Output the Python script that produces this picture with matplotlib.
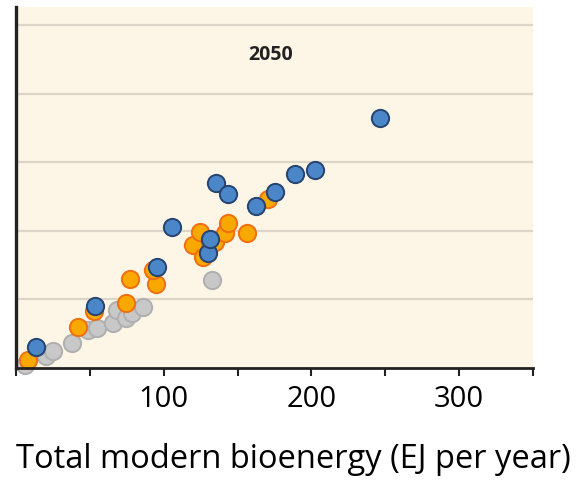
import matplotlib.pyplot as plt

# values (x: EJ per year, y: arbitrary grid units)
gray_x = [6.1, 20.4, 25.1, 38.0, 48.8, 55.0, 65.8, 68.5, 74.6, 78.7, 86.2, 133.0]
gray_y = [0.9, 3.5, 5.0, 7.3, 11.1, 11.7, 13.1, 16.9, 14.6, 16.1, 17.8, 25.7]

orange_x = [8.1, 42.1, 52.9, 74.6, 77.3, 95.0, 92.9, 120.1, 124.8, 126.9,
            135.0, 141.8, 143.8, 156.7, 170.3]
orange_y = [2.3, 12.0, 16.6, 19.0, 26.0, 24.5, 28.6, 35.9, 39.7, 32.4,
            36.8, 39.4, 42.3, 39.4, 49.3]

blue_x = [13.6, 53.6, 95.7, 105.8, 130.3, 131.6, 135.7, 143.8, 162.8,
          175.0, 188.6, 202.2, 246.3]
blue_y = [6.1, 18.2, 29.6, 41.2, 33.6, 37.7, 54.0, 50.8, 47.3,
          51.4, 56.6, 57.8, 73.0]

x_ticks = [0, 50, 100, 150, 200, 250, 300, 350]
x_tick_labels = ["", "", "100", "", "200", "", "300", ""]
grid_y = [20, 40, 60, 80, 100]

fig = plt.figure(figsize=(5.76, 4.83), dpi=100)
ax = fig.add_axes([16 / 576, 1 - 368 / 483, (533 - 16) / 576, (368 - 7) / 483])
ax.set_facecolor("#fdf5e6")

for g in grid_y:
    ax.axhline(g, color="#ddd6c8", lw=1.6, zorder=1)

ms = 155
ax.scatter(gray_x, gray_y, s=ms, c="#c8c8c8", edgecolors="#afafaf",
           linewidths=1.4, zorder=2, clip_on=False)
ax.scatter(orange_x, orange_y, s=ms, c="#f9a800", edgecolors="#ef6f12",
           linewidths=1.4, zorder=3, clip_on=False)
ax.scatter(blue_x, blue_y, s=ms, c="#4a86c8", edgecolors="#26446f",
           linewidths=1.4, zorder=4, clip_on=False)

ax.set_xlim(0, 350)
ax.set_ylim(0, 105.4)
ax.set_xticks(x_ticks)
ax.set_xticklabels(x_tick_labels, fontsize=21, family="Open Sans")
ax.set_yticks([])
ax.tick_params(axis="x", direction="out", length=6, width=1.5,
               color="#222222", pad=6)

for side in ("top", "right"):
    ax.spines[side].set_visible(False)
ax.spines["bottom"].set_linewidth(2)
ax.spines["bottom"].set_color("#222222")
ax.spines["bottom"].set_zorder(5)
ax.spines["left"].set_linewidth(2.4)
ax.spines["left"].set_color("#222222")
ax.spines["left"].set_zorder(5)

ax.text(271 / 576, 1 - 55 / 483, "2050", transform=fig.transFigure,
        ha="center", va="center", fontsize=14, fontweight="bold",
        family="Open Sans", color="#222222")

fig.text(293 / 576, 1 - 459 / 483, "Total modern bioenergy (EJ per year)",
         ha="center", va="center", fontsize=23.5, family="Open Sans")

fig.savefig("out.png", dpi=100)
